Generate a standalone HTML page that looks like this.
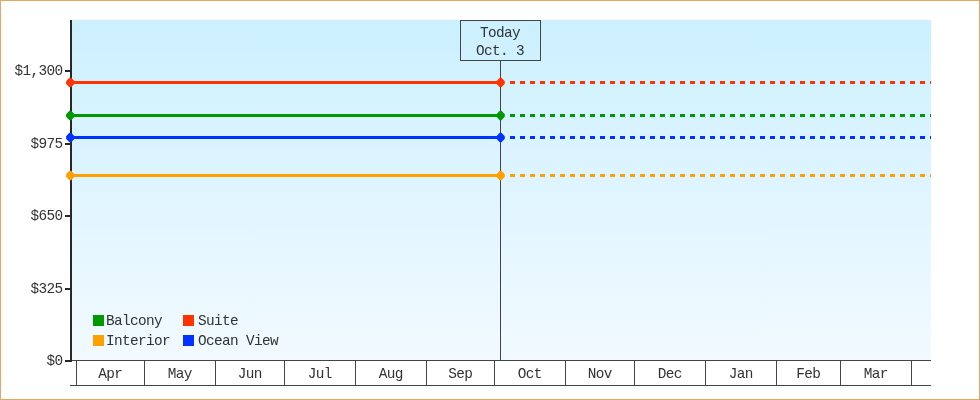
<!DOCTYPE html>
<html><head><meta charset="utf-8"><title>Price Chart</title>
<style>
html,body{margin:0;padding:0;background:#fff;}
body{width:980px;height:400px;overflow:hidden;}
#chart{position:relative;width:978px;height:398px;border:1px solid #E9A560;background:#fff;}
svg{position:absolute;left:-1px;top:-1px;display:block;}
text{font-family:"Liberation Mono","DejaVu Sans Mono",monospace;font-size:14.4px;letter-spacing:-0.641px;fill:#333;}
.ax{fill:#282828;shape-rendering:crispEdges;}
.thin{fill:#444;shape-rendering:crispEdges;}
</style></head><body>
<div id="chart">
<svg width="980" height="400" viewBox="0 0 980 400">
<defs><linearGradient id="bg" x1="0" y1="0" x2="0" y2="1"><stop offset="0" stop-color="#CCF0FF"/><stop offset="1" stop-color="#F2FAFF"/></linearGradient></defs>
<rect x="72" y="20" width="859" height="340" fill="url(#bg)"/>
<rect class="ax" x="70" y="20" width="2" height="342"/>
<rect class="thin" x="500" y="60" width="1" height="300"/>
<g fill="#FF3300" stroke="none"><rect x="70" y="81.0" width="430" height="3"/><rect x="510" y="81.0" width="5" height="3"/><rect x="520" y="81.0" width="5" height="3"/><rect x="530" y="81.0" width="5" height="3"/><rect x="540" y="81.0" width="5" height="3"/><rect x="550" y="81.0" width="5" height="3"/><rect x="560" y="81.0" width="5" height="3"/><rect x="570" y="81.0" width="5" height="3"/><rect x="580" y="81.0" width="5" height="3"/><rect x="590" y="81.0" width="5" height="3"/><rect x="600" y="81.0" width="5" height="3"/><rect x="610" y="81.0" width="5" height="3"/><rect x="620" y="81.0" width="5" height="3"/><rect x="630" y="81.0" width="5" height="3"/><rect x="640" y="81.0" width="5" height="3"/><rect x="650" y="81.0" width="5" height="3"/><rect x="660" y="81.0" width="5" height="3"/><rect x="670" y="81.0" width="5" height="3"/><rect x="680" y="81.0" width="5" height="3"/><rect x="690" y="81.0" width="5" height="3"/><rect x="700" y="81.0" width="5" height="3"/><rect x="710" y="81.0" width="5" height="3"/><rect x="720" y="81.0" width="5" height="3"/><rect x="730" y="81.0" width="5" height="3"/><rect x="740" y="81.0" width="5" height="3"/><rect x="750" y="81.0" width="5" height="3"/><rect x="760" y="81.0" width="5" height="3"/><rect x="770" y="81.0" width="5" height="3"/><rect x="780" y="81.0" width="5" height="3"/><rect x="790" y="81.0" width="5" height="3"/><rect x="800" y="81.0" width="5" height="3"/><rect x="810" y="81.0" width="5" height="3"/><rect x="820" y="81.0" width="5" height="3"/><rect x="830" y="81.0" width="5" height="3"/><rect x="840" y="81.0" width="5" height="3"/><rect x="850" y="81.0" width="5" height="3"/><rect x="860" y="81.0" width="5" height="3"/><rect x="870" y="81.0" width="5" height="3"/><rect x="880" y="81.0" width="5" height="3"/><rect x="890" y="81.0" width="5" height="3"/><rect x="900" y="81.0" width="5" height="3"/><rect x="910" y="81.0" width="5" height="3"/><rect x="920" y="81.0" width="5" height="3"/><rect x="930" y="81.0" width="1" height="3"/><polygon points="69.4,77.8 71.2,77.8 74.5,81.2 74.5,83.8 71.2,87.2 69.4,87.2 66.1,83.8 66.1,81.2"/><polygon points="499.7,77.8 501.5,77.8 504.8,81.2 504.8,83.8 501.5,87.2 499.7,87.2 496.5,83.8 496.5,81.2"/></g>
<g fill="#009900" stroke="none"><rect x="70" y="114.0" width="430" height="3"/><rect x="510" y="114.0" width="5" height="3"/><rect x="520" y="114.0" width="5" height="3"/><rect x="530" y="114.0" width="5" height="3"/><rect x="540" y="114.0" width="5" height="3"/><rect x="550" y="114.0" width="5" height="3"/><rect x="560" y="114.0" width="5" height="3"/><rect x="570" y="114.0" width="5" height="3"/><rect x="580" y="114.0" width="5" height="3"/><rect x="590" y="114.0" width="5" height="3"/><rect x="600" y="114.0" width="5" height="3"/><rect x="610" y="114.0" width="5" height="3"/><rect x="620" y="114.0" width="5" height="3"/><rect x="630" y="114.0" width="5" height="3"/><rect x="640" y="114.0" width="5" height="3"/><rect x="650" y="114.0" width="5" height="3"/><rect x="660" y="114.0" width="5" height="3"/><rect x="670" y="114.0" width="5" height="3"/><rect x="680" y="114.0" width="5" height="3"/><rect x="690" y="114.0" width="5" height="3"/><rect x="700" y="114.0" width="5" height="3"/><rect x="710" y="114.0" width="5" height="3"/><rect x="720" y="114.0" width="5" height="3"/><rect x="730" y="114.0" width="5" height="3"/><rect x="740" y="114.0" width="5" height="3"/><rect x="750" y="114.0" width="5" height="3"/><rect x="760" y="114.0" width="5" height="3"/><rect x="770" y="114.0" width="5" height="3"/><rect x="780" y="114.0" width="5" height="3"/><rect x="790" y="114.0" width="5" height="3"/><rect x="800" y="114.0" width="5" height="3"/><rect x="810" y="114.0" width="5" height="3"/><rect x="820" y="114.0" width="5" height="3"/><rect x="830" y="114.0" width="5" height="3"/><rect x="840" y="114.0" width="5" height="3"/><rect x="850" y="114.0" width="5" height="3"/><rect x="860" y="114.0" width="5" height="3"/><rect x="870" y="114.0" width="5" height="3"/><rect x="880" y="114.0" width="5" height="3"/><rect x="890" y="114.0" width="5" height="3"/><rect x="900" y="114.0" width="5" height="3"/><rect x="910" y="114.0" width="5" height="3"/><rect x="920" y="114.0" width="5" height="3"/><rect x="930" y="114.0" width="1" height="3"/><polygon points="69.4,110.8 71.2,110.8 74.5,114.2 74.5,116.8 71.2,120.2 69.4,120.2 66.1,116.8 66.1,114.2"/><polygon points="499.7,110.8 501.5,110.8 504.8,114.2 504.8,116.8 501.5,120.2 499.7,120.2 496.5,116.8 496.5,114.2"/></g>
<g fill="#0033FF" stroke="none"><rect x="70" y="136.0" width="430" height="3"/><rect x="510" y="136.0" width="5" height="3"/><rect x="520" y="136.0" width="5" height="3"/><rect x="530" y="136.0" width="5" height="3"/><rect x="540" y="136.0" width="5" height="3"/><rect x="550" y="136.0" width="5" height="3"/><rect x="560" y="136.0" width="5" height="3"/><rect x="570" y="136.0" width="5" height="3"/><rect x="580" y="136.0" width="5" height="3"/><rect x="590" y="136.0" width="5" height="3"/><rect x="600" y="136.0" width="5" height="3"/><rect x="610" y="136.0" width="5" height="3"/><rect x="620" y="136.0" width="5" height="3"/><rect x="630" y="136.0" width="5" height="3"/><rect x="640" y="136.0" width="5" height="3"/><rect x="650" y="136.0" width="5" height="3"/><rect x="660" y="136.0" width="5" height="3"/><rect x="670" y="136.0" width="5" height="3"/><rect x="680" y="136.0" width="5" height="3"/><rect x="690" y="136.0" width="5" height="3"/><rect x="700" y="136.0" width="5" height="3"/><rect x="710" y="136.0" width="5" height="3"/><rect x="720" y="136.0" width="5" height="3"/><rect x="730" y="136.0" width="5" height="3"/><rect x="740" y="136.0" width="5" height="3"/><rect x="750" y="136.0" width="5" height="3"/><rect x="760" y="136.0" width="5" height="3"/><rect x="770" y="136.0" width="5" height="3"/><rect x="780" y="136.0" width="5" height="3"/><rect x="790" y="136.0" width="5" height="3"/><rect x="800" y="136.0" width="5" height="3"/><rect x="810" y="136.0" width="5" height="3"/><rect x="820" y="136.0" width="5" height="3"/><rect x="830" y="136.0" width="5" height="3"/><rect x="840" y="136.0" width="5" height="3"/><rect x="850" y="136.0" width="5" height="3"/><rect x="860" y="136.0" width="5" height="3"/><rect x="870" y="136.0" width="5" height="3"/><rect x="880" y="136.0" width="5" height="3"/><rect x="890" y="136.0" width="5" height="3"/><rect x="900" y="136.0" width="5" height="3"/><rect x="910" y="136.0" width="5" height="3"/><rect x="920" y="136.0" width="5" height="3"/><rect x="930" y="136.0" width="1" height="3"/><polygon points="69.4,132.8 71.2,132.8 74.5,136.2 74.5,138.8 71.2,142.2 69.4,142.2 66.1,138.8 66.1,136.2"/><polygon points="499.7,132.8 501.5,132.8 504.8,136.2 504.8,138.8 501.5,142.2 499.7,142.2 496.5,138.8 496.5,136.2"/></g>
<g fill="#FFA000" stroke="none"><rect x="70" y="174.0" width="430" height="3"/><rect x="510" y="174.0" width="5" height="3"/><rect x="520" y="174.0" width="5" height="3"/><rect x="530" y="174.0" width="5" height="3"/><rect x="540" y="174.0" width="5" height="3"/><rect x="550" y="174.0" width="5" height="3"/><rect x="560" y="174.0" width="5" height="3"/><rect x="570" y="174.0" width="5" height="3"/><rect x="580" y="174.0" width="5" height="3"/><rect x="590" y="174.0" width="5" height="3"/><rect x="600" y="174.0" width="5" height="3"/><rect x="610" y="174.0" width="5" height="3"/><rect x="620" y="174.0" width="5" height="3"/><rect x="630" y="174.0" width="5" height="3"/><rect x="640" y="174.0" width="5" height="3"/><rect x="650" y="174.0" width="5" height="3"/><rect x="660" y="174.0" width="5" height="3"/><rect x="670" y="174.0" width="5" height="3"/><rect x="680" y="174.0" width="5" height="3"/><rect x="690" y="174.0" width="5" height="3"/><rect x="700" y="174.0" width="5" height="3"/><rect x="710" y="174.0" width="5" height="3"/><rect x="720" y="174.0" width="5" height="3"/><rect x="730" y="174.0" width="5" height="3"/><rect x="740" y="174.0" width="5" height="3"/><rect x="750" y="174.0" width="5" height="3"/><rect x="760" y="174.0" width="5" height="3"/><rect x="770" y="174.0" width="5" height="3"/><rect x="780" y="174.0" width="5" height="3"/><rect x="790" y="174.0" width="5" height="3"/><rect x="800" y="174.0" width="5" height="3"/><rect x="810" y="174.0" width="5" height="3"/><rect x="820" y="174.0" width="5" height="3"/><rect x="830" y="174.0" width="5" height="3"/><rect x="840" y="174.0" width="5" height="3"/><rect x="850" y="174.0" width="5" height="3"/><rect x="860" y="174.0" width="5" height="3"/><rect x="870" y="174.0" width="5" height="3"/><rect x="880" y="174.0" width="5" height="3"/><rect x="890" y="174.0" width="5" height="3"/><rect x="900" y="174.0" width="5" height="3"/><rect x="910" y="174.0" width="5" height="3"/><rect x="920" y="174.0" width="5" height="3"/><rect x="930" y="174.0" width="1" height="3"/><polygon points="69.4,170.8 71.2,170.8 74.5,174.2 74.5,176.8 71.2,180.2 69.4,180.2 66.1,176.8 66.1,174.2"/><polygon points="499.7,170.8 501.5,170.8 504.8,174.2 504.8,176.8 501.5,180.2 499.7,180.2 496.5,176.8 496.5,174.2"/></g>
<rect class="thin" x="72" y="360" width="859" height="1"/>
<rect class="thin" x="70" y="385" width="861" height="1"/>
<rect class="thin" x="76" y="360" width="1" height="26"/><rect class="thin" x="144" y="360" width="1" height="26"/><rect class="thin" x="215" y="360" width="1" height="26"/><rect class="thin" x="284" y="360" width="1" height="26"/><rect class="thin" x="355" y="360" width="1" height="26"/><rect class="thin" x="426" y="360" width="1" height="26"/><rect class="thin" x="494" y="360" width="1" height="26"/><rect class="thin" x="565" y="360" width="1" height="26"/><rect class="thin" x="634" y="360" width="1" height="26"/><rect class="thin" x="705" y="360" width="1" height="26"/><rect class="thin" x="776" y="360" width="1" height="26"/><rect class="thin" x="840" y="360" width="1" height="26"/><rect class="thin" x="911" y="360" width="1" height="26"/>
<rect class="ax" x="65" y="70" width="5" height="2"/><text x="62.5" y="74.6" text-anchor="end">$1,300</text>
<rect class="ax" x="65" y="143" width="5" height="2"/><text x="62.5" y="147.6" text-anchor="end">$975</text>
<rect class="ax" x="65" y="215" width="5" height="2"/><text x="62.5" y="219.6" text-anchor="end">$650</text>
<rect class="ax" x="65" y="288" width="5" height="2"/><text x="62.5" y="292.6" text-anchor="end">$325</text>
<rect class="ax" x="65" y="360" width="5" height="2"/><text x="62.5" y="364.6" text-anchor="end">$0</text>
<text x="110.25" y="378" text-anchor="middle">Apr</text><text x="179.75" y="378" text-anchor="middle">May</text><text x="249.75" y="378" text-anchor="middle">Jun</text><text x="319.75" y="378" text-anchor="middle">Jul</text><text x="390.75" y="378" text-anchor="middle">Aug</text><text x="460.25" y="378" text-anchor="middle">Sep</text><text x="529.75" y="378" text-anchor="middle">Oct</text><text x="599.75" y="378" text-anchor="middle">Nov</text><text x="669.75" y="378" text-anchor="middle">Dec</text><text x="740.75" y="378" text-anchor="middle">Jan</text><text x="808.25" y="378" text-anchor="middle">Feb</text><text x="875.75" y="378" text-anchor="middle">Mar</text>
<rect x="460.5" y="20.5" width="80" height="40" fill="none" stroke="#444" stroke-width="1"/>
<text x="500" y="36.8" text-anchor="middle">Today</text><text x="500" y="54.8" text-anchor="middle">Oct. 3</text>
<rect x="93" y="315" width="11" height="11" fill="#009900" shape-rendering="crispEdges"/><text x="106" y="324.7">Balcony</text>
<rect x="183" y="315" width="11" height="11" fill="#FF3300" shape-rendering="crispEdges"/><text x="198" y="324.7">Suite</text>
<rect x="93" y="335" width="11" height="11" fill="#FFA000" shape-rendering="crispEdges"/><text x="106" y="344.7">Interior</text>
<rect x="183" y="335" width="11" height="11" fill="#0033FF" shape-rendering="crispEdges"/><text x="198" y="344.7">Ocean View</text>
</svg>
</div>
</body></html>
